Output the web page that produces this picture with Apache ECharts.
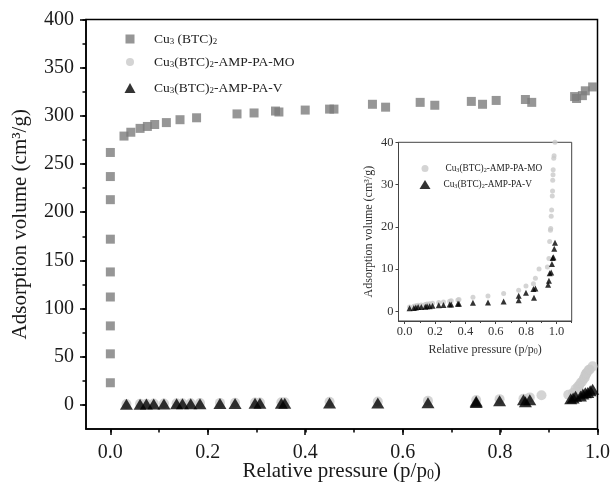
<!DOCTYPE html>
<html>
<head>
<meta charset="utf-8">
<script src="https://cdn.jsdelivr.net/npm/echarts@6/dist/echarts.min.js"></script>
<style>html,body{margin:0;padding:0;background:#fff}#c{width:613px;height:495px}</style>
</head>
<body>
<div id="c"></div>
<script>
// ---- data ----
const nameCu = 'Cu3(BTC)2';
const nameMO = 'Cu3(BTC)2-AMP-PA-MO';
const nameV = 'Cu3(BTC)2-AMP-PA-V';

const cuX = [0,0,0,0,0,0,0,0,0,0.028,0.042,0.061,0.076,0.091,0.115,0.143,0.177,0.26,0.295,0.339,0.346,0.40,0.450,0.459,0.538,0.565,0.636,0.666,0.741,0.764,0.792,0.852,0.865,0.953,0.957,0.969,0.975,0.990];
const cuY = [23,53,82,112,138,172,213,237,262,279,283,287,289,291,293,296,298,302,303,305,304,306,307,307,312,309,314,311,315,312,316,317,314,320,318,321,326,330];

const moX = [0.033,0.061,0.074,0.089,0.110,0.136,0.148,0.165,0.184,0.225,0.256,0.297,0.307,0.351,0.358,0.45,0.549,0.652,0.751,0.799,0.848,0.861,0.885,0.94,0.95,0.955,0.96,0.962,0.965,0.968,0.972,0.974,0.975,0.977,0.978,0.982,0.984,0.99];
const moY = [1.0,1.2,1.3,1.4,1.5,1.6,1.7,1.8,1.9,2.1,2.2,2.4,2.5,2.7,2.8,3.3,3.6,4.2,5.0,6.0,6.5,7.8,10.0,10.5,12.5,16.5,19.2,19.6,22.5,24.0,27.3,28.5,31.0,32.3,33.5,36.2,36.8,40.0];

const vX = [0.033,0.061,0.074,0.089,0.110,0.136,0.148,0.165,0.184,0.225,0.256,0.297,0.307,0.351,0.358,0.45,0.549,0.652,0.751,0.751,0.799,0.848,0.852,0.861,0.945,0.95,0.955,0.965,0.97,0.975,0.98,0.985,0.99];
const vY = [0.7,0.8,0.9,1.0,1.0,1.1,1.2,1.2,1.3,1.4,1.5,1.6,1.6,1.8,1.8,2.0,2.1,2.3,3.7,2.6,4.4,5.3,3.2,5.4,6.3,7.2,9.0,9.2,11.2,12.6,12.8,14.8,16.2];

// axis ranges and tick values
const mainX = { min: -0.05, max: 1.0, minorStep: 0.1 };
const mainY = { min: -25, max: 400, minorStep: 25 };
const insetX = { min: -0.04, max: 1.1, minorStep: 0.1 };
const insetY = { min: -2.3, max: 40 };
const mainXTicks = [0, 0.2, 0.4, 0.6, 0.8, 1.0];
const mainYTicks = [0, 50, 100, 150, 200, 250, 300, 350, 400];
const insetXTicks = [0, 0.2, 0.4, 0.6, 0.8, 1.0];
const insetYTicks = [0, 10, 20, 30, 40];

// ---- helpers ----
const zip = (xs, ys) => xs.map((x, i) => [x, ys[i]]);
const F = '"Liberation Serif", "Times New Roman", serif';
const C_CU = '#7c7c7c', C_MO = '#c9c9c9', C_V = '#000000';

// grid geometry (pixels)
const W = 613, H = 495;
const G0 = { left: 86, top: 19.5, right: 15, bottom: 66 };
const G0W = W - G0.left - G0.right, G0H = H - G0.top - G0.bottom;
const G1 = { left: 398.5, top: 142.3, width: 173.2, height: 178.7 };

// invisible helper grids that span exactly [0, max] of the main/inset axes, used for minor ticks
const pxX0 = G0W / (mainX.max - mainX.min);
const pxY0 = G0H / (mainY.max - mainY.min);
const pxX1 = G1.width / (insetX.max - insetX.min);
const Gmx = { left: G0.left - mainX.min * pxX0, width: mainX.max * pxX0, top: G0.top, height: G0H };
const Gmy = { left: G0.left, width: G0W, top: G0.top, height: mainY.max * pxY0 };
const Gix = { left: G1.left - insetX.min * pxX1, width: insetX.max * pxX1, top: G1.top, height: G1.height };

function richName(name) {
  if (name === nameCu) return '{n|Cu}{s|3}{n| (BTC)}{s|2}';
  const rest = name.replace('Cu3(BTC)2', '');
  return '{n|Cu}{s|3}{n|(BTC)}{s|2}{n|' + rest + '}';
}
function legendRich(fs, pad) {
  return {
    n: { fontSize: fs, fontFamily: F, color: '#222' },
    s: { fontSize: fs * 0.66, fontFamily: F, color: '#222', padding: [pad, 0, 0, 0] }
  };
}
function mkLegend(name, icon, left, top, w, h, fs, pad, gap) {
  return {
    data: [{ name: name, icon: icon }],
    left: left, top: top, itemWidth: w, itemHeight: h, padding: 0,
    formatter: richName,
    textStyle: { fontFamily: F, fontSize: fs, padding: [0, 0, 0, gap], rich: legendRich(fs, pad) }
  };
}
function valAxis(o) {
  return Object.assign({ type: 'value', splitLine: { show: false }, nameMoveOverlap: false }, o);
}
function minorAxis(grid, min, max, step, len, color, width) {
  return valAxis({
    gridIndex: grid, min: min, max: max, interval: step,
    axisLine: { show: false, onZero: false },
    axisTick: { show: true, length: len, lineStyle: { color: color, width: width } },
    axisLabel: { show: false }
  });
}

const chart = echarts.init(document.getElementById('c'), null, { renderer: 'canvas' });

const axisLineMain = { show: true, onZero: false, lineStyle: { color: '#000', width: 1.5 } };
const axisLineInset = { show: true, onZero: false, lineStyle: { color: '#444', width: 1 } };
const hiddenAxis = (grid) => valAxis({ gridIndex: grid, show: false, min: 0, max: 1 });

const option = {
  backgroundColor: '#fff',
  animation: false,
  grid: [
    Object.assign({ show: true, borderColor: '#000', borderWidth: 1.5, backgroundColor: 'transparent' }, G0),
    Object.assign({ show: true, borderColor: '#444', borderWidth: 1, backgroundColor: '#fff' }, G1),
    Object.assign({ show: false }, Gmx),
    Object.assign({ show: false }, Gmy),
    Object.assign({ show: false }, Gix)
  ],
  xAxis: [
    valAxis({
      gridIndex: 0, min: mainX.min, max: mainX.max, position: 'bottom',
      axisLine: axisLineMain,
      axisTick: { show: true, customValues: mainXTicks, length: 6, lineStyle: { color: '#000', width: 1.5 } },
      axisLabel: { customValues: mainXTicks, formatter: v => v.toFixed(1), fontFamily: F, fontSize: 20, color: '#1a1a1a', margin: 14 },
      name: '{n|Relative pressure (p/p}{s|0}{n|)}', nameLocation: 'middle', nameGap: 31,
      nameTextStyle: { fontFamily: F, fontSize: 21, color: '#1a1a1a',
        rich: { n: { fontSize: 21, fontFamily: F, color: '#1a1a1a' }, s: { fontSize: 14, fontFamily: F, color: '#1a1a1a', padding: [8, 0, 0, 0] } } }
    }),
    valAxis({
      gridIndex: 1, min: insetX.min, max: insetX.max, position: 'bottom',
      axisLine: axisLineInset,
      axisTick: { show: true, customValues: insetXTicks, length: 3, lineStyle: { color: '#444', width: 1 } },
      axisLabel: { customValues: insetXTicks, formatter: v => v.toFixed(1), fontFamily: F, fontSize: 12.5, color: '#333', margin: 4.5 },
      name: '{n|Relative pressure (p/p}{s|0}{n|)}', nameLocation: 'middle', nameGap: 22,
      nameTextStyle: { fontFamily: F, fontSize: 12, color: '#333',
        rich: { n: { fontSize: 12, fontFamily: F, color: '#333' }, s: { fontSize: 8, fontFamily: F, color: '#333', padding: [5, 0, 0, 0] } } }
    }),
    minorAxis(2, 0, mainX.max, mainX.minorStep, 3.5, '#000', 1.5),
    hiddenAxis(3),
    minorAxis(4, 0, insetX.max, insetX.minorStep, 2, '#444', 1)
  ],
  yAxis: [
    valAxis({
      gridIndex: 0, min: mainY.min, max: mainY.max, position: 'left',
      axisLine: axisLineMain,
      axisTick: { show: true, customValues: mainYTicks, length: 6, lineStyle: { color: '#000', width: 1.5 } },
      axisLabel: { customValues: mainYTicks, fontFamily: F, fontSize: 20, color: '#1a1a1a', margin: 12 },
      name: 'Adsorption volume (cm³/g)', nameLocation: 'middle', nameGap: 55, nameRotate: 90,
      nameTextStyle: { fontFamily: F, fontSize: 21, color: '#1a1a1a' }
    }),
    valAxis({
      gridIndex: 1, min: insetY.min, max: insetY.max, position: 'left',
      axisLine: axisLineInset,
      axisTick: { show: true, customValues: insetYTicks, length: 3, lineStyle: { color: '#444', width: 1 } },
      axisLabel: { customValues: insetYTicks, fontFamily: F, fontSize: 12.5, color: '#333', margin: 5 },
      name: 'Adsorption volume (cm³/g)', nameLocation: 'middle', nameGap: 24, nameRotate: 90,
      nameTextStyle: { fontFamily: F, fontSize: 12, color: '#333' }
    }),
    hiddenAxis(2),
    minorAxis(3, 0, mainY.max, mainY.minorStep, 3.5, '#000', 1.5),
    hiddenAxis(4)
  ],
  legend: [
    mkLegend(nameCu, 'rect', 125.5, 32, 9, 9, 13.5, 6, 14.5),
    mkLegend(nameMO, 'circle', 126, 55, 8, 8, 13.5, 6, 15),
    mkLegend(nameV, 'triangle', 124.5, 81, 11, 10, 13.5, 6, 13.5),
    mkLegend(nameMO, 'circle', 421.5, 164, 7, 7, 9.3, 4, 12),
    mkLegend(nameV, 'triangle', 419.5, 180, 11, 9, 9.3, 4, 8)
  ],
  series: [
    { name: nameCu, type: 'scatter', xAxisIndex: 0, yAxisIndex: 0, symbol: 'rect', symbolSize: 9,
      itemStyle: { color: C_CU }, data: zip(cuX, cuY) },
    { name: nameMO, type: 'scatter', xAxisIndex: 0, yAxisIndex: 0, symbol: 'circle', symbolSize: 10,
      itemStyle: { color: C_MO }, data: zip(moX, moY) },
    { name: nameV, type: 'scatter', xAxisIndex: 0, yAxisIndex: 0, symbol: 'triangle', symbolSize: [13, 11],
      itemStyle: { color: C_V }, data: zip(vX, vY) },
    { name: nameMO, type: 'scatter', xAxisIndex: 1, yAxisIndex: 1, symbol: 'circle', symbolSize: 5,
      itemStyle: { color: C_MO }, data: zip(moX, moY) },
    { name: nameV, type: 'scatter', xAxisIndex: 1, yAxisIndex: 1, symbol: 'triangle', symbolSize: [6, 6],
      itemStyle: { color: C_V }, data: zip(vX, vY) }
  ]
};
chart.setOption(option);
</script>
</body>
</html>
